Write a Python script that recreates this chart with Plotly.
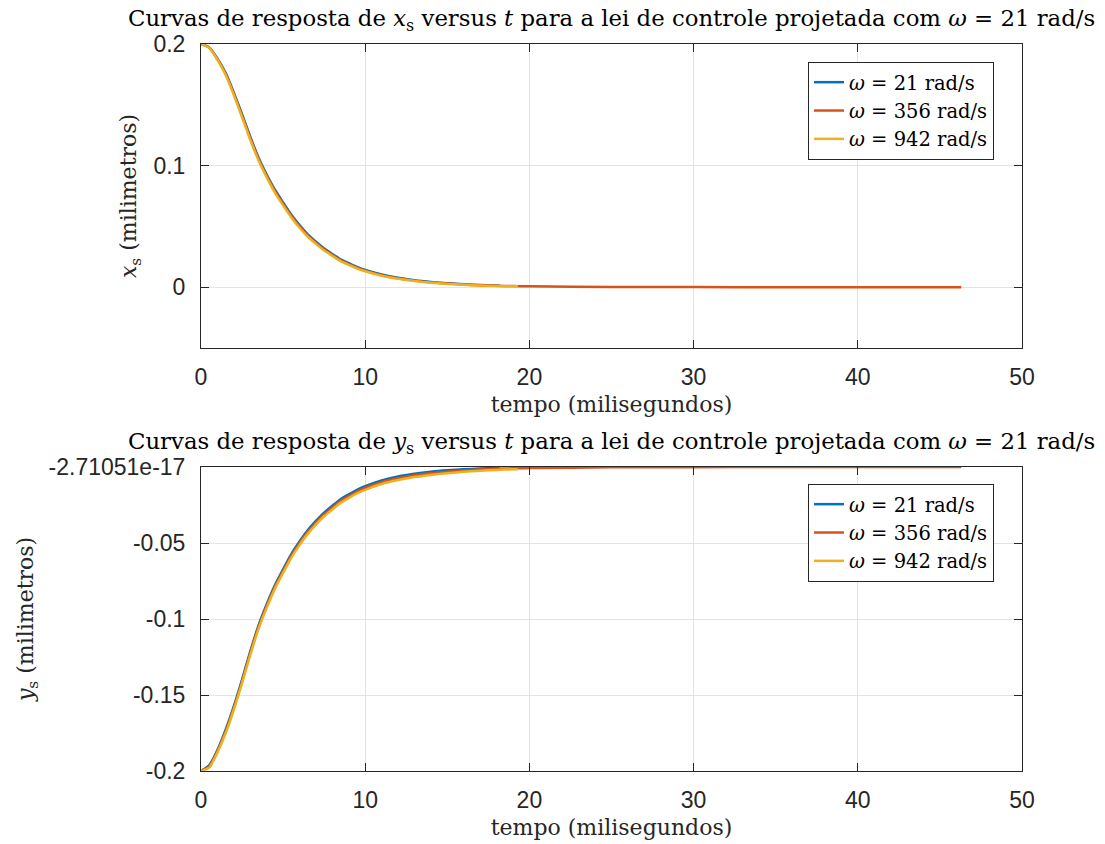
import plotly.graph_objects as go

# ---------------- data ----------------
t_21 = [0, 0.5, 1, 1.5, 2, 2.5, 3, 3.5, 4, 4.5, 5, 5.5, 6, 6.5, 7, 7.5, 8, 8.5, 9, 9.5,
        10, 11, 12, 13, 14, 15, 16, 17, 18, 18.2]
t_356 = [0, 0.5, 1, 1.5, 2, 2.5, 3, 3.5, 4, 4.5, 5, 5.5, 6, 6.5, 7, 7.5, 8, 8.5, 9, 9.5,
         10, 11, 12, 13, 14, 15, 16, 17, 18, 19, 20, 25, 30, 35, 40, 46.3]
t_942 = [0, 0.5, 1, 1.5, 2, 2.5, 3, 3.5, 4, 4.5, 5, 5.5, 6, 6.5, 7, 7.5, 8, 8.5, 9, 9.5,
         10, 11, 12, 13, 14, 15, 16, 17, 18, 19, 19.3]

xs_21 = [0.2, 0.1972, 0.1880, 0.1763, 0.1600, 0.1422, 0.1237, 0.1067, 0.0927, 0.0802,
         0.0697, 0.0596, 0.0511, 0.0435, 0.0374, 0.0319, 0.0273, 0.0229, 0.0197, 0.0166,
         0.0141, 0.0104, 0.0077, 0.0057, 0.0043, 0.0032, 0.0024, 0.0018, 0.0013, 0.0012]
xs_356 = [0.2, 0.1970, 0.1875, 0.1755, 0.1590, 0.1410, 0.1225, 0.1055, 0.0915, 0.0790,
          0.0685, 0.0585, 0.0500, 0.0425, 0.0365, 0.0310, 0.0265, 0.0222, 0.0190, 0.0160,
          0.0136, 0.0099, 0.0073, 0.0054, 0.0040, 0.0030, 0.0022, 0.0016, 0.0012, 0.0009,
          0.0007, 0.0002, 0.0001, 0.0, 0.0, 0.0]
xs_942 = [0.2, 0.1968, 0.1870, 0.1747, 0.1580, 0.1398, 0.1213, 0.1043, 0.0903, 0.0778,
          0.0673, 0.0574, 0.0489, 0.0415, 0.0356, 0.0301, 0.0257, 0.0215, 0.0183, 0.0154,
          0.0131, 0.0094, 0.0069, 0.0051, 0.0037, 0.0027, 0.0020, 0.0014, 0.0010, 0.0007, 0.0007]

ys_21 = [-0.2, -0.1962, -0.1862, -0.1728, -0.1573, -0.1398, -0.1213, -0.1043, -0.0903, -0.0778,
         -0.0673, -0.0573, -0.0490, -0.0416, -0.0355, -0.0300, -0.0255, -0.0212, -0.0180, -0.0150,
         -0.0126, -0.0088, -0.0062, -0.0044, -0.0031, -0.0022, -0.0015, -0.0010, -0.0006, -0.0006]
ys_356 = [-0.2, -0.1970, -0.1870, -0.1740, -0.1585, -0.1410, -0.1225, -0.1055, -0.0915, -0.0790,
          -0.0685, -0.0585, -0.0502, -0.0428, -0.0367, -0.0312, -0.0267, -0.0224, -0.0192, -0.0162,
          -0.0138, -0.0100, -0.0074, -0.0055, -0.0041, -0.0031, -0.0023, -0.0017, -0.0012, -0.0009,
          -0.0007, -0.0002, -0.0001, 0.0, 0.0, 0.0]
ys_942 = [-0.2, -0.1978, -0.1878, -0.1752, -0.1597, -0.1422, -0.1237, -0.1067, -0.0927, -0.0802,
          -0.0697, -0.0597, -0.0514, -0.0440, -0.0379, -0.0324, -0.0279, -0.0236, -0.0204, -0.0174,
          -0.0150, -0.0112, -0.0086, -0.0066, -0.0052, -0.0041, -0.0032, -0.0025, -0.0019, -0.0015, -0.0014]

series_names = ["<i>ω</i> = 21 rad/s", "<i>ω</i> = 356 rad/s", "<i>ω</i> = 942 rad/s"]
series_colors = ["#0072BD", "#D95319", "#EDB120"]

x_ticks = [0, 10, 20, 30, 40, 50]
xs_ticks = [0, 0.1, 0.2]
xs_ticktext = ["0", "0.1", "0.2"]
ys_ticks = [-0.2, -0.15, -0.1, -0.05, -2.71051e-17]
ys_ticktext = ["-0.2", "-0.15", "-0.1", "-0.05", "-2.71051e-17"]

title_top = ("Curvas de resposta de <i>x</i><sub>s</sub> versus <i>t</i> para a lei de "
             "controle projetada com <i>ω</i> = 21 rad/s")
title_bot = ("Curvas de resposta de <i>y</i><sub>s</sub> versus <i>t</i> para a lei de "
             "controle projetada com <i>ω</i> = 21 rad/s")

# ---------------- figure ----------------
W, H = 1105, 844
fig = go.Figure()

top_sets = [(t_21, xs_21), (t_356, xs_356), (t_942, xs_942)]
bot_sets = [(t_21, ys_21), (t_356, ys_356), (t_942, ys_942)]
for (tt, vv), name, col in zip(top_sets, series_names, series_colors):
    fig.add_trace(go.Scatter(x=tt, y=vv, mode="lines", name=name,
                             line=dict(color=col, width=2.5, shape="spline", smoothing=0.6),
                             xaxis="x", yaxis="y", legend="legend"))
for (tt, vv), name, col in zip(bot_sets, series_names, series_colors):
    fig.add_trace(go.Scatter(x=tt, y=vv, mode="lines", name=name,
                             line=dict(color=col, width=2.5, shape="spline", smoothing=0.6),
                             xaxis="x2", yaxis="y2", legend="legend2"))

axcol = "#262626"
serif = "DejaVu Serif"
sans = "Liberation Sans"

x0, x1 = 201 / W, 1022 / W
common_x = dict(range=[0, 50], tickvals=x_ticks, showline=True, linecolor=axcol, linewidth=1,
                mirror="ticks", ticks="inside", ticklen=8, tickcolor=axcol,
                showgrid=True, gridcolor="#e3e3e3", zeroline=False, automargin=False,
                tickfont=dict(family=sans, size=23, color=axcol),
                ticklabelstandoff=8, domain=[x0, x1])
common_y = dict(showline=True, linecolor=axcol, linewidth=1, mirror="ticks", ticks="inside",
                ticklen=8, tickcolor=axcol, showgrid=True, gridcolor="#e3e3e3", zeroline=False,
                automargin=False,
                tickfont=dict(family=sans, size=23, color=axcol), ticklabelstandoff=10)

fig.update_layout(
    width=W, height=H,
    margin=dict(l=0, r=0, t=0, b=0, autoexpand=False),
    paper_bgcolor="white", plot_bgcolor="white",
    xaxis=dict(common_x, anchor="y",
               title=dict(text="tempo (milisegundos)", font=dict(family=serif, size=22, color=axcol),
                          standoff=8)),
    yaxis=dict(common_y, range=[-0.05, 0.2], tickvals=xs_ticks, ticktext=xs_ticktext,
               domain=[1 - 348 / H, 1 - 44 / H], anchor="x",
               title=dict(text="<i>x</i><sub>s</sub> (milimetros)",
                          font=dict(family=serif, size=22, color=axcol), standoff=10)),
    xaxis2=dict(common_x, anchor="y2",
                title=dict(text="tempo (milisegundos)", font=dict(family=serif, size=22, color=axcol),
                           standoff=8)),
    yaxis2=dict(common_y, range=[-0.2, -2.71051e-17], tickvals=ys_ticks, ticktext=ys_ticktext,
                domain=[1 - 771 / H, 1 - 467 / H], anchor="x2",
                title=dict(text="<i>y</i><sub>s</sub> (milimetros)",
                           font=dict(family=serif, size=22, color=axcol), standoff=8)),
    legend=dict(x=808 / W, y=1 - 62 / H, xanchor="left", yanchor="top",
                bgcolor="white", bordercolor=axcol, borderwidth=1,
                font=dict(family=serif, size=19.5, color="black"), tracegroupgap=0),
    legend2=dict(x=808 / W, y=1 - 484 / H, xanchor="left", yanchor="top",
                 bgcolor="white", bordercolor=axcol, borderwidth=1,
                 font=dict(family=serif, size=19.5, color="black"), tracegroupgap=0),
    annotations=[
        dict(text=title_top, xref="paper", yref="paper", x=(x0 + x1) / 2, y=1 - 20 / H,
             xanchor="center", yanchor="middle", showarrow=False,
             font=dict(family=serif, size=22.8, color="black")),
        dict(text=title_bot, xref="paper", yref="paper", x=(x0 + x1) / 2, y=1 - 443 / H,
             xanchor="center", yanchor="middle", showarrow=False,
             font=dict(family=serif, size=22.8, color="black")),
    ],
)

fig.write_html("out.html")
